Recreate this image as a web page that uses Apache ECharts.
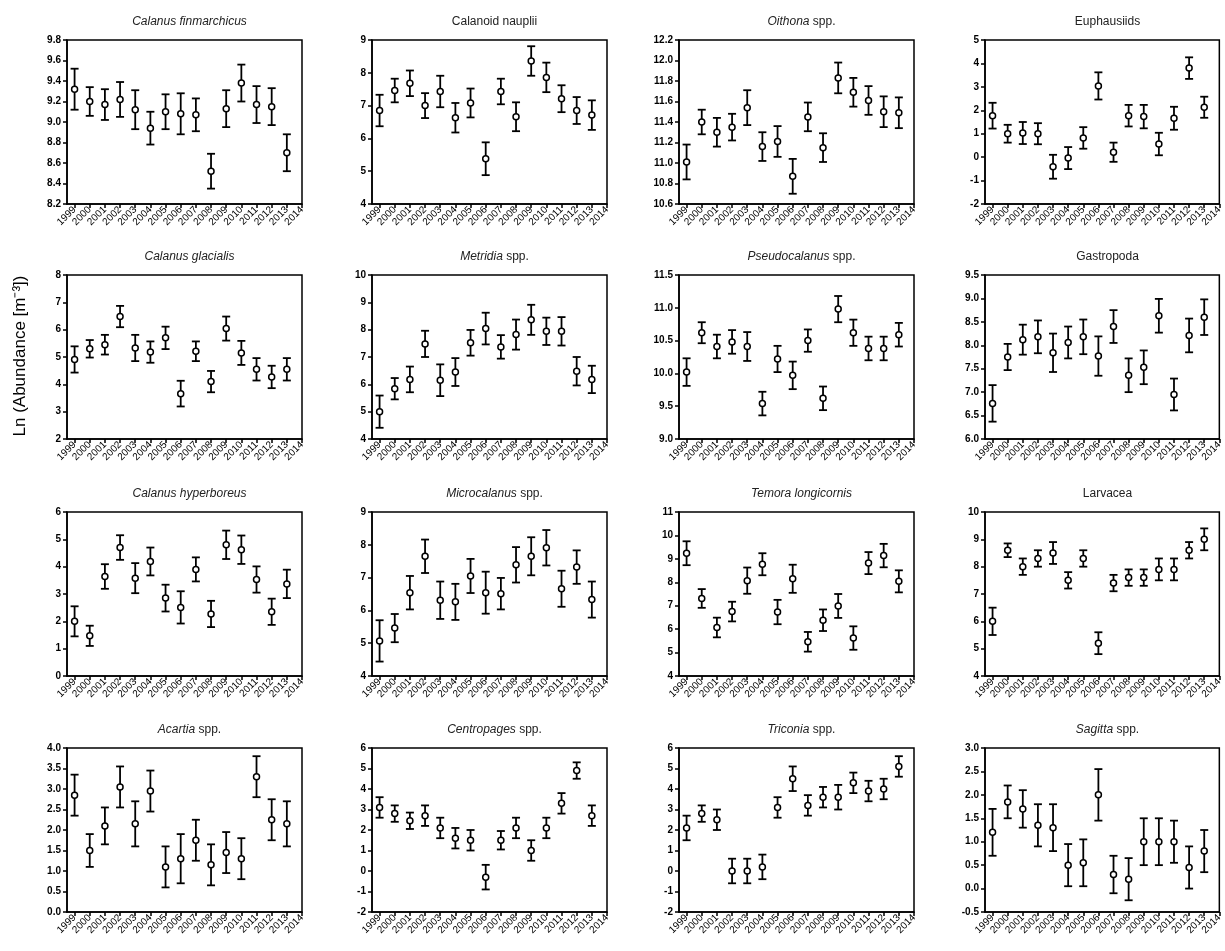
<!DOCTYPE html>
<html>
<head>
<meta charset="utf-8">
<script src="https://cdn.jsdelivr.net/npm/echarts@6/dist/echarts.min.js"></script>
<style>
  html, body { margin: 0; padding: 0; background: #fff; }
  #chart { width: 1225px; height: 951px; }
</style>
</head>
<body>
<div id="chart"></div>
<script>
// sampling years (points) and axis tick years
const years = [1999, 2000, 2001, 2002, 2003, 2004, 2005, 2006, 2007, 2008, 2009, 2010, 2011, 2012, 2013]
const tickYears = [1999, 2000, 2001, 2002, 2003, 2004, 2005, 2006, 2007, 2008, 2009, 2010, 2011, 2012, 2013, 2014]

// mean ln abundance and error (half bar length) per taxon
const finmarchicusMean = [9.32, 9.20, 9.17, 9.22, 9.12, 8.94, 9.10, 9.08, 9.07, 8.52, 9.13, 9.38, 9.17, 9.15, 8.70]
const finmarchicusErr = [0.20, 0.14, 0.15, 0.17, 0.19, 0.16, 0.17, 0.20, 0.16, 0.17, 0.18, 0.18, 0.18, 0.18, 0.18]

const naupliiMean = [6.85, 7.46, 7.68, 7.00, 7.43, 6.63, 7.08, 5.38, 7.43, 6.66, 8.36, 7.86, 7.21, 6.85, 6.71]
const naupliiErr = [0.48, 0.36, 0.39, 0.38, 0.48, 0.45, 0.44, 0.50, 0.39, 0.44, 0.45, 0.45, 0.41, 0.41, 0.45]

const oithonaMean = [11.01, 11.40, 11.30, 11.35, 11.54, 11.16, 11.21, 10.87, 11.45, 11.15, 11.83, 11.69, 11.61, 11.50, 11.49]
const oithonaErr = [0.17, 0.12, 0.14, 0.13, 0.17, 0.14, 0.15, 0.17, 0.14, 0.14, 0.15, 0.14, 0.14, 0.15, 0.15]

const euphausiidMean = [1.77, 1.00, 1.03, 1.00, -0.41, -0.04, 0.82, 3.04, 0.21, 1.77, 1.73, 0.56, 1.66, 3.80, 2.13]
const euphausiidErr = [0.55, 0.38, 0.47, 0.45, 0.51, 0.47, 0.46, 0.58, 0.41, 0.46, 0.50, 0.48, 0.49, 0.46, 0.45]

const glacialisMean = [4.91, 5.30, 5.45, 6.48, 5.33, 5.18, 5.70, 3.66, 5.21, 4.10, 6.04, 5.15, 4.55, 4.27, 4.55]
const glacialisErr = [0.48, 0.32, 0.36, 0.39, 0.48, 0.39, 0.41, 0.47, 0.36, 0.39, 0.44, 0.44, 0.41, 0.41, 0.41]

const metridiaMean = [5.00, 5.84, 6.18, 7.48, 6.15, 6.45, 7.52, 8.04, 7.37, 7.82, 8.36, 7.94, 7.94, 6.48, 6.18]
const metridiaErr = [0.59, 0.39, 0.47, 0.48, 0.58, 0.51, 0.47, 0.58, 0.43, 0.55, 0.55, 0.50, 0.52, 0.52, 0.50]

const pseudocalanusMean = [10.02, 10.62, 10.41, 10.48, 10.41, 9.54, 10.22, 9.97, 10.50, 9.62, 10.98, 10.62, 10.38, 10.38, 10.59]
const pseudocalanusErr = [0.21, 0.16, 0.18, 0.18, 0.22, 0.18, 0.20, 0.21, 0.17, 0.18, 0.20, 0.20, 0.18, 0.18, 0.18]

const gastropodaMean = [6.76, 7.75, 8.12, 8.18, 7.84, 8.06, 8.18, 7.77, 8.40, 7.36, 7.53, 8.63, 6.95, 8.21, 8.60]
const gastropodaErr = [0.39, 0.28, 0.32, 0.35, 0.41, 0.34, 0.37, 0.42, 0.35, 0.36, 0.36, 0.36, 0.34, 0.36, 0.38]

const hyperboreusMean = [2.00, 1.47, 3.64, 4.70, 3.58, 4.19, 2.85, 2.51, 3.90, 2.27, 4.80, 4.62, 3.53, 2.35, 3.37]
const hyperboreusErr = [0.55, 0.37, 0.45, 0.45, 0.55, 0.51, 0.49, 0.59, 0.44, 0.48, 0.52, 0.52, 0.48, 0.48, 0.52]

const microcalanusMean = [5.07, 5.46, 6.54, 7.65, 6.31, 6.26, 7.05, 6.54, 6.51, 7.39, 7.65, 7.91, 6.66, 7.32, 6.33]
const microcalanusErr = [0.63, 0.43, 0.51, 0.51, 0.57, 0.55, 0.52, 0.64, 0.48, 0.54, 0.58, 0.54, 0.55, 0.51, 0.55]

const temoraMean = [9.24, 7.31, 6.07, 6.75, 8.07, 8.77, 6.73, 8.15, 5.46, 6.38, 6.99, 5.62, 8.82, 9.14, 8.04]
const temoraErr = [0.51, 0.40, 0.42, 0.42, 0.56, 0.47, 0.52, 0.60, 0.42, 0.46, 0.51, 0.50, 0.47, 0.50, 0.47]

const larvaceaMean = [6.00, 8.60, 8.00, 8.30, 8.50, 7.50, 8.30, 5.20, 7.40, 7.60, 7.60, 7.90, 7.90, 8.60, 9.00]
const larvaceaErr = [0.50, 0.25, 0.30, 0.30, 0.40, 0.30, 0.30, 0.40, 0.30, 0.30, 0.30, 0.40, 0.40, 0.30, 0.40]

const acartiaMean = [2.85, 1.50, 2.10, 3.05, 2.15, 2.95, 1.10, 1.30, 1.75, 1.15, 1.45, 1.30, 3.30, 2.25, 2.15]
const acartiaErr = [0.50, 0.40, 0.45, 0.50, 0.55, 0.50, 0.50, 0.60, 0.50, 0.50, 0.50, 0.50, 0.50, 0.50, 0.55]

const centropagesMean = [3.10, 2.80, 2.45, 2.70, 2.10, 1.60, 1.50, -0.30, 1.50, 2.10, 1.00, 2.10, 3.30, 4.90, 2.70]
const centropagesErr = [0.50, 0.40, 0.40, 0.50, 0.50, 0.50, 0.50, 0.60, 0.45, 0.50, 0.50, 0.50, 0.50, 0.40, 0.50]

const triconiaMean = [2.10, 2.80, 2.50, 0.00, 0.00, 0.20, 3.10, 4.50, 3.20, 3.60, 3.60, 4.30, 3.90, 4.00, 5.10]
const triconiaErr = [0.60, 0.40, 0.50, 0.60, 0.60, 0.60, 0.50, 0.60, 0.50, 0.50, 0.60, 0.50, 0.50, 0.50, 0.50]

const sagittaMean = [1.20, 1.85, 1.70, 1.35, 1.30, 0.50, 0.55, 2.00, 0.30, 0.20, 1.00, 1.00, 1.00, 0.45, 0.80]
const sagittaErr = [0.50, 0.35, 0.40, 0.45, 0.50, 0.45, 0.50, 0.55, 0.40, 0.45, 0.50, 0.50, 0.45, 0.45, 0.45]

// panel titles: [italic part, upright part]
const panelTitles = [
  ['Calanus finmarchicus', ''], ['', 'Calanoid nauplii'], ['Oithona', 'spp.'], ['', 'Euphausiids'],
  ['Calanus glacialis', ''], ['Metridia', 'spp.'], ['Pseudocalanus', 'spp.'], ['', 'Gastropoda'],
  ['Calanus hyperboreus', ''], ['Microcalanus', 'spp.'], ['Temora longicornis', ''], ['', 'Larvacea'],
  ['Acartia', 'spp.'], ['Centropages', 'spp.'], ['Triconia', 'spp.'], ['Sagitta', 'spp.']
]
// y axis ranges: [min, max, interval, decimals]
const yRanges = [
  [8.2, 9.8, 0.2, 1], [4, 9, 1, 0], [10.6, 12.2, 0.2, 1], [-2, 5, 1, 0],
  [2, 8, 1, 0], [4, 10, 1, 0], [9.0, 11.5, 0.5, 1], [6.0, 9.5, 0.5, 1],
  [0, 6, 1, 0], [4, 9, 1, 0], [4, 11, 1, 0], [4, 10, 1, 0],
  [0.0, 4.0, 0.5, 1], [-2, 6, 1, 0], [-2, 6, 1, 0], [-0.5, 3.0, 0.5, 1]
]
const means = [
  finmarchicusMean, naupliiMean, oithonaMean, euphausiidMean,
  glacialisMean, metridiaMean, pseudocalanusMean, gastropodaMean,
  hyperboreusMean, microcalanusMean, temoraMean, larvaceaMean,
  acartiaMean, centropagesMean, triconiaMean, sagittaMean
]
const errs = [
  finmarchicusErr, naupliiErr, oithonaErr, euphausiidErr,
  glacialisErr, metridiaErr, pseudocalanusErr, gastropodaErr,
  hyperboreusErr, microcalanusErr, temoraErr, larvaceaErr,
  acartiaErr, centropagesErr, triconiaErr, sagittaErr
]

const FONT = '"Liberation Sans", Arial, sans-serif'
const lefts = [67, 372, 679, 985]
const tops = [40, 275, 512, 748]
const W = 235
const H = 164

const chart = echarts.init(document.getElementById('chart'), null, { renderer: 'canvas' })

const grids = [], xAxes = [], yAxes = [], series = [], titles = []

const renderErrorBar = (params, api) => {
  const x = api.value(0)
  const lo = api.coord([x, api.value(1)])
  const hi = api.coord([x, api.value(2)])
  const cap = 4
  const style = { stroke: '#000', lineWidth: 1.8 }
  return {
    type: 'group',
    children: [
      { type: 'line', shape: { x1: lo[0], y1: lo[1], x2: hi[0], y2: hi[1] }, style },
      { type: 'line', shape: { x1: lo[0] - cap, y1: lo[1], x2: lo[0] + cap, y2: lo[1] }, style },
      { type: 'line', shape: { x1: hi[0] - cap, y1: hi[1], x2: hi[0] + cap, y2: hi[1] }, style }
    ]
  }
}

for (let i = 0; i < 16; i++) {
  const r = Math.floor(i / 4), c = i % 4
  const [ymin, ymax, yint, dec] = yRanges[i]
  grids.push({
    left: lefts[c], top: tops[r], width: W, height: H,
    show: true, borderColor: '#000', borderWidth: 1.5, backgroundColor: 'transparent'
  })
  const [it, up] = panelTitles[i]
  const text = (it ? '{i|' + it + '}' : '') + (it && up ? ' ' : '') + (up ? '{n|' + up + '}' : '')
  titles.push({
    text,
    left: lefts[c] + W / 2,
    top: tops[r] - 29,
    textAlign: 'center',
    textStyle: {
      fontWeight: 'normal', fontSize: 12, fontFamily: FONT, color: '#222',
      rich: {
        i: { fontStyle: 'italic', fontWeight: 'normal', fontSize: 12, fontFamily: FONT, color: '#222' },
        n: { fontWeight: 'normal', fontSize: 12, fontFamily: FONT, color: '#222' }
      }
    }
  })
  xAxes.push({
    type: 'value', gridIndex: i, min: 1998.5, max: 2014,
    axisLine: { show: true, onZero: false, lineStyle: { color: '#000', width: 1.5 } },
    axisTick: { show: true, customValues: tickYears, length: 4, lineStyle: { color: '#000', width: 1.5 } },
    axisLabel: {
      customValues: tickYears, rotate: 45, fontSize: 10, fontFamily: FONT, color: '#000', margin: 4,
      formatter: v => String(v)
    },
    splitLine: { show: false }
  })
  yAxes.push({
    type: 'value', gridIndex: i, min: ymin, max: ymax, interval: yint,
    axisLine: { show: true, onZero: false, lineStyle: { color: '#000', width: 1.5 } },
    axisTick: { show: true, length: 4, lineStyle: { color: '#000', width: 1.5 } },
    axisLabel: {
      fontSize: 10, fontFamily: FONT, color: '#000', margin: 6, fontWeight: 'bold',
      formatter: v => v.toFixed(dec)
    },
    splitLine: { show: false }
  })
  const m = means[i], e = errs[i]
  series.push({
    type: 'custom', xAxisIndex: i, yAxisIndex: i,
    renderItem: renderErrorBar,
    encode: { x: 0, y: [1, 2] },
    data: years.map((yr, k) => [yr, m[k] - e[k], m[k] + e[k]]),
    z: 2, silent: true
  })
  series.push({
    type: 'scatter', xAxisIndex: i, yAxisIndex: i,
    symbol: 'circle', symbolSize: 6,
    itemStyle: { color: '#fff', borderColor: '#000', borderWidth: 1.5, opacity: 1 },
    data: years.map((yr, k) => [yr, m[k]]),
    z: 3, silent: true
  })
}

chart.setOption({
  backgroundColor: '#fff',
  animation: false,
  title: titles,
  grid: grids,
  xAxis: xAxes,
  yAxis: yAxes,
  series,
  graphic: [{
    type: 'text',
    x: 20, y: 356,
    rotation: Math.PI / 2,
    style: {
      text: 'Ln (Abundance [m⁻³])',
      fontSize: 17, fontFamily: FONT, fill: '#000',
      align: 'center', verticalAlign: 'middle'
    }
  }]
})
</script>
</body>
</html>
